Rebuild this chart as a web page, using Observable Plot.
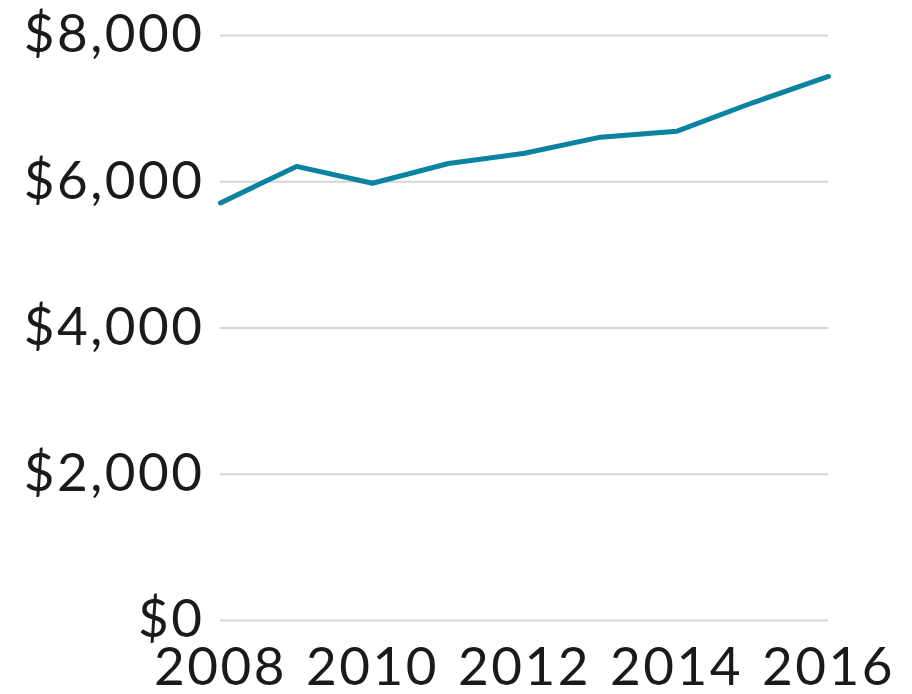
<!DOCTYPE html>
<html>
<head>
<meta charset="utf-8">
<script src="https://cdn.jsdelivr.net/npm/d3@7"></script>
<script src="https://cdn.jsdelivr.net/npm/@observablehq/plot@0.6"></script>
<style>
  html, body { margin: 0; padding: 0; background: #fff; }
  #chart svg { display: block; }
  #chart svg text { letter-spacing: 2.5px; }
</style>
</head>
<body>
<div id="chart"></div>
<script>
const years = [2008, 2009, 2010, 2011, 2012, 2013, 2014, 2015, 2016];
const values = [5710, 6210, 5980, 6250, 6390, 6610, 6690, 7080, 7440];
const xTicks = [2008, 2010, 2012, 2014, 2016];
const yTicks = [0, 2000, 4000, 6000, 8000];

const data = years.map((y, i) => ({year: y, value: values[i]}));

const chart = Plot.plot({
  width: 912,
  height: 694,
  marginLeft: 220,
  marginRight: 84,
  marginTop: 35,
  marginBottom: 74,
  style: {fontFamily: "Lato, sans-serif", fontSize: "53px", color: "#1a1a1a", background: "#fff"},
  x: {domain: [2008, 2016], ticks: xTicks, tickFormat: d => String(d)},
  y: {domain: [0, 8000], ticks: yTicks, tickFormat: d => "$" + d3.format(",")(d)},
  marks: [
    Plot.gridY(yTicks, {stroke: "#d6d6d6", strokeOpacity: 1, strokeWidth: 2}),
    Plot.axisY(yTicks, {tickSize: 0, tickPadding: 16, label: null, tickFormat: d => "$" + d3.format(",")(d)}),
    Plot.axisX(xTicks, {tickSize: 0, tickPadding: 27, label: null, tickFormat: d => String(d)}),
    Plot.line(data, {x: "year", y: "value", stroke: "#0a83a0", strokeWidth: 5})
  ]
});
document.getElementById("chart").appendChild(chart);
</script>
</body>
</html>
